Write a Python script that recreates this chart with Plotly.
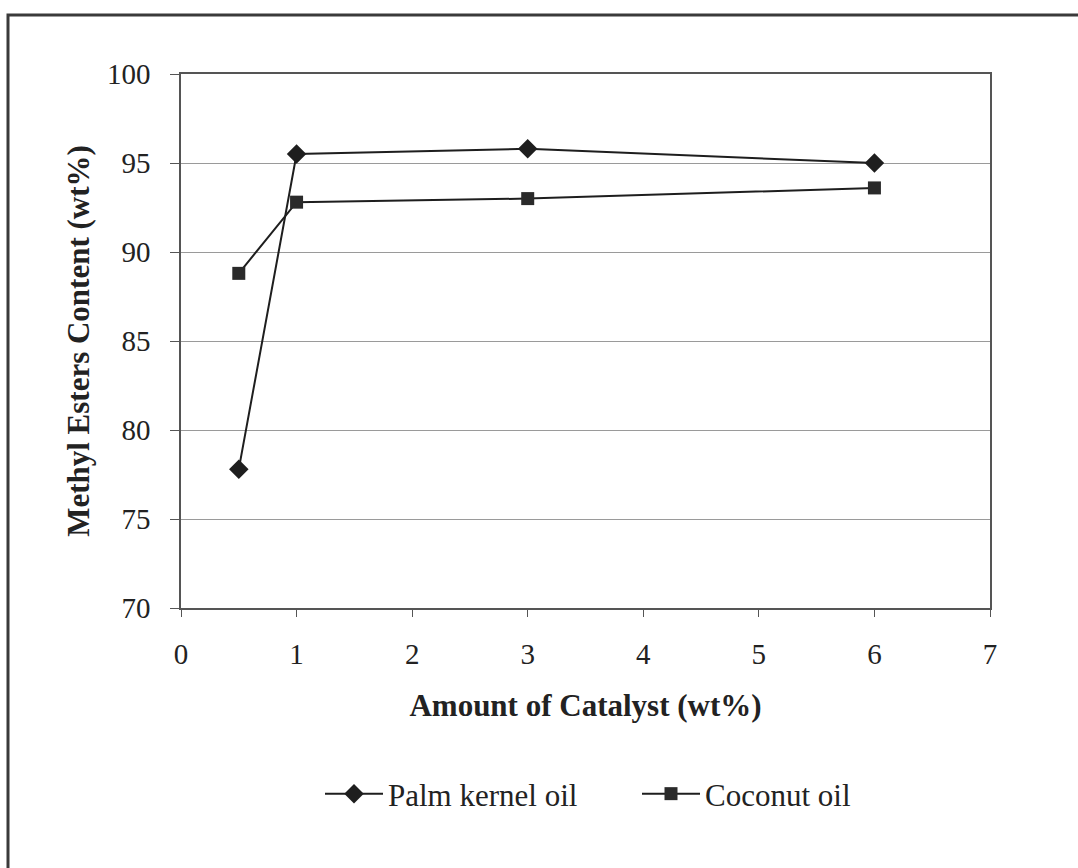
import plotly.graph_objects as go

catalyst = [0.5, 1, 3, 6]
palm_kernel = [77.8, 95.5, 95.8, 95.0]
coconut = [88.8, 92.8, 93.0, 93.6]

W, H = 1078, 868
L, R, T, B = 181, 88, 74, 260
pw, ph = W - L - R, H - T - B

def px_x(p):
    return (p - L) / pw

def px_y(p):
    return (H - B - p) / ph

font_family = "Liberation Serif, Times New Roman, serif"

fig = go.Figure()
fig.add_trace(go.Scatter(
    x=catalyst, y=palm_kernel, mode="lines+markers", name="Palm kernel oil",
    line=dict(color="#1e1e1e", width=2),
    marker=dict(symbol="diamond", size=15, color="#1e1e1e"),
))
fig.add_trace(go.Scatter(
    x=catalyst, y=coconut, mode="lines+markers", name="Coconut oil",
    line=dict(color="#1e1e1e", width=2),
    marker=dict(symbol="square", size=13, color="#2a2a2a"),
))

fig.update_layout(
    width=W, height=H,
    margin=dict(l=L, r=R, t=T, b=B, autoexpand=False),
    paper_bgcolor="white", plot_bgcolor="white",
    font=dict(family=font_family, size=29, color="#222"),
    showlegend=True,
    legend=dict(orientation="h", x=px_x(320), xanchor="left", y=px_y(794), yanchor="middle",
                font=dict(size=31, family=font_family, color="#222"), bgcolor="rgba(0,0,0,0)",
                itemwidth=58, tracegroupgap=0, entrywidth=244, entrywidthmode="pixels"),
    xaxis=dict(range=[0, 7], tickvals=[0, 1, 2, 3, 4, 5, 6, 7], showgrid=False, zeroline=False,
               showline=True, linecolor="#555", linewidth=1.5, mirror=True,
               ticks="outside", ticklen=7, tickcolor="#555", ticklabelstandoff=12,
               tickfont=dict(size=29, family=font_family, color="#222"),
               title=dict(text="<b>Amount of Catalyst (wt%)</b>", standoff=26,
                          font=dict(size=31, family=font_family, color="#222"))),
    yaxis=dict(range=[70, 100], tickvals=[70, 75, 80, 85, 90, 95, 100], showgrid=True,
               gridcolor="#9a9a9a", gridwidth=1, zeroline=False,
               showline=True, linecolor="#555", linewidth=1.5, mirror=True,
               ticks="outside", ticklen=9, tickcolor="#555", ticklabelstandoff=14,
               tickfont=dict(size=29, family=font_family, color="#222"),
               title=dict(text="<b>Methyl Esters Content (wt%)</b>", standoff=8,
                          font=dict(size=31, family=font_family, color="#222"))),
    shapes=[dict(type="rect", xref="paper", yref="paper",
                 x0=px_x(8), x1=px_x(1090), y0=px_y(880), y1=px_y(15),
                 line=dict(color="#3a3a3a", width=3), layer="below")],
)

fig.write_html("out.html")
